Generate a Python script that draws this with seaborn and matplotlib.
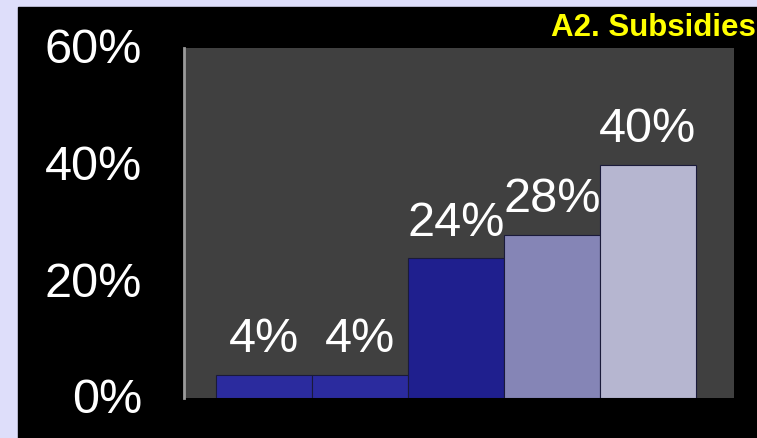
import matplotlib
matplotlib.use("Agg")
import matplotlib.pyplot as plt
import matplotlib.patches as mpatches
import matplotlib.transforms as mtransforms
import pandas as pd
import seaborn as sns

sns.set_theme(style="dark")
plt.rcParams['font.family'] = ['Liberation Sans', 'DejaVu Sans']

# data
categories = ["1", "2", "3", "4", "5"]
values = [4, 4, 24, 28, 40]
bar_colors = ["#2b2b9e", "#2b2b9e", "#1f1f8e", "#8585b6", "#b6b6d0"]
y_ticks = [0, 20, 40, 60]
y_tick_labels = ["0%", "20%", "40%", "60%"]
title = "A2. Subsidies"

df = pd.DataFrame({"cat": categories, "val": values})

W, H = 757, 438
fig = plt.figure(figsize=(W / 100, H / 100), dpi=100, facecolor="#dedefa")
# black panel behind everything
fig.patches.append(mpatches.Rectangle((18 / W, 0), 1 - 18 / W, (H - 7) / H,
                                      transform=fig.transFigure, color="black", zorder=-10))

ax = fig.add_axes([184 / W, (H - 398) / H, (734 - 184) / W, (398 - 48) / H])
ax.set_facecolor("#404040")

sns.barplot(data=df, x="cat", y="val", hue="cat", palette=bar_colors, legend=False,
            width=1.0, saturation=1, edgecolor="#1a1a3a", linewidth=0.8, ax=ax)

for c in ax.containers:
    ax.bar_label(c, labels=[f"{v:g}%" for v in c.datavalues], padding=9,
                 fontsize=35, color="white")

ax.set_xlim(-0.833, 4.896)
ax.set_ylim(0, 60)
ax.set_yticks(y_ticks)
ax.set_yticklabels(y_tick_labels, fontsize=35, color="white")
ax.tick_params(axis="y", length=0, pad=30)
shift = mtransforms.ScaledTranslation(0, 1.5 / 72, fig.dpi_scale_trans)
for lbl in ax.get_yticklabels():
    lbl.set_transform(lbl.get_transform() + shift)
ax.set_xticks([])
ax.set_xlabel("")
ax.set_ylabel("")
ax.grid(False)
for s in ["top", "right", "bottom"]:
    ax.spines[s].set_visible(False)
ax.spines["left"].set_color("#9a9a9a")
ax.spines["left"].set_linewidth(2)

fig.text(756 / W, (H - 28) / H, title, ha="right", va="center", fontsize=22.5,
         fontweight="bold", color="#ffff00")

fig.savefig("out.png", dpi=100, facecolor=fig.get_facecolor())
